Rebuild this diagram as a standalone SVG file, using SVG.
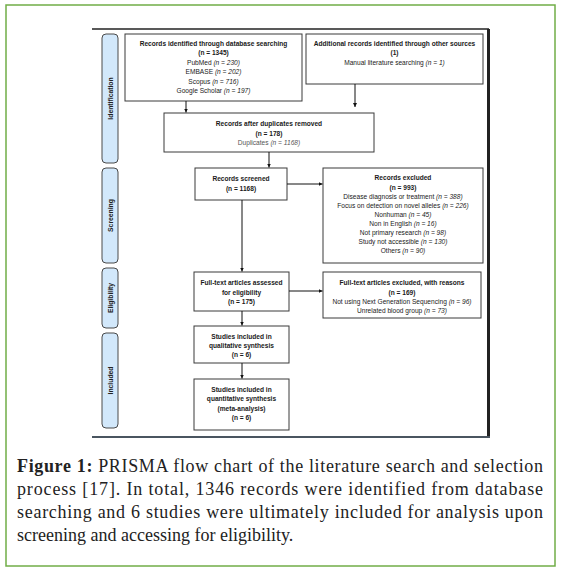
<svg xmlns="http://www.w3.org/2000/svg" width="564" height="571" viewBox="0 0 564 571">
<style>
.box{fill:#fff;stroke:#3a3a3a;stroke-width:1}
.lane{fill:#d2e8fb;stroke:#4a4a4a;stroke-width:1}
.t{font-family:"Liberation Sans",Arial,sans-serif;font-size:6.6px;fill:#1a1a1a;text-anchor:middle}
.b{font-weight:bold}
.i{font-style:italic}
.g{fill:#555}
.lt{font-family:"Liberation Sans",Arial,sans-serif;font-size:6.8px;font-weight:bold;fill:#222;text-anchor:middle}
.cap{font-family:"Liberation Serif","Times New Roman",serif;font-size:18px;fill:#222}
.conn{stroke:#111;stroke-width:1;fill:none;marker-end:url(#ah)}
</style>
<defs>
<marker id="ah" viewBox="0 0 6 6" refX="6" refY="3" markerWidth="4" markerHeight="4" markerUnits="userSpaceOnUse" orient="auto">
<path d="M0,0 L6,3 L0,6 z" fill="#111"/>
</marker>
</defs>
<rect x="6" y="5" width="549" height="561" fill="#fff" stroke="#70ad47" stroke-width="1.5"/>
<g id="frame">
<line x1="92" y1="29" x2="489" y2="29" stroke="#222" stroke-width="1.5"/>
<line x1="488.5" y1="29" x2="488.5" y2="438" stroke="#222" stroke-width="3"/>
<line x1="92" y1="437" x2="490" y2="437" stroke="#4a5560" stroke-width="2"/>
</g>
<g id="lane-identification"><rect class="lane" x="102" y="34" width="16" height="129" rx="4"/><text class="lt" transform="translate(112.5,98.5) rotate(-90)">Identification</text></g>
<g id="lane-screening"><rect class="lane" x="102" y="168" width="16" height="95" rx="4"/><text class="lt" transform="translate(112.5,215.5) rotate(-90)">Screening</text></g>
<g id="lane-eligibility"><rect class="lane" x="102" y="268" width="16" height="60" rx="4"/><text class="lt" transform="translate(112.5,298) rotate(-90)">Eligibility</text></g>
<g id="lane-included"><rect class="lane" x="102" y="333" width="16" height="95" rx="4"/><text class="lt" transform="translate(112.5,380.5) rotate(-90)">Included</text></g>

<g id="n-db">
<rect class="box" x="125" y="34" width="177" height="67"/>
<text class="t b" x="213.5" y="46">Records identified through database searching</text>
<text class="t b" x="213.5" y="55">(n = 1345)</text>
<text class="t" x="213.5" y="64.5">PubMed <tspan class="i">(n = 230)</tspan></text>
<text class="t" x="213.5" y="74">EMBASE <tspan class="i">(n = 202)</tspan></text>
<text class="t" x="213.5" y="83.5">Scopus <tspan class="i">(n = 716)</tspan></text>
<text class="t" x="213.5" y="93">Google Scholar <tspan class="i">(n = 197)</tspan></text>
</g>
<g id="n-other">
<rect class="box" x="306" y="34" width="177" height="50"/>
<text class="t b" x="394.5" y="46">Additional records identified through other sources</text>
<text class="t b" x="394.5" y="55">(1)</text>
<text class="t" x="394.5" y="64.5">Manual literature searching <tspan class="i">(n = 1)</tspan></text>
</g>
<g id="n-dedup">
<rect class="box" x="164" y="113" width="210" height="39"/>
<text class="t b" x="269" y="126">Records after duplicates removed</text>
<text class="t b" x="269" y="135.5">(n = 178)</text>
<text class="t g" x="269" y="145">Duplicates <tspan class="i">(n = 1168)</tspan></text>
</g>
<g id="n-screened">
<rect class="box" x="195" y="168" width="92" height="32"/>
<text class="t b" x="241" y="181">Records screened</text>
<text class="t b" x="241" y="191">(n = 1168)</text>
</g>
<g id="n-excluded">
<rect class="box" x="323" y="168" width="160" height="95"/>
<text class="t b" x="403" y="180">Records excluded</text>
<text class="t b" x="403" y="189.5">(n = 993)</text>
<text class="t" x="403" y="199">Disease diagnosis or treatment <tspan class="i">(n = 388)</tspan></text>
<text class="t" x="403" y="208">Focus on detection on novel alleles <tspan class="i">(n = 226)</tspan></text>
<text class="t" x="403" y="217">Nonhuman <tspan class="i">(n = 45)</tspan></text>
<text class="t" x="403" y="226">Non in English <tspan class="i">(n = 16)</tspan></text>
<text class="t" x="403" y="235">Not primary research <tspan class="i">(n = 98)</tspan></text>
<text class="t" x="403" y="244">Study not accessible <tspan class="i">(n = 130)</tspan></text>
<text class="t" x="403" y="253">Others <tspan class="i">(n = 90)</tspan></text>
</g>
<g id="n-fulltext">
<rect class="box" x="194" y="272" width="95" height="39"/>
<text class="t b" x="241.5" y="285">Full-text articles assessed</text>
<text class="t b" x="241.5" y="294.5">for eligibility</text>
<text class="t b" x="241.5" y="304">(n = 175)</text>
</g>
<g id="n-ftexcluded">
<rect class="box" x="323" y="272" width="158" height="46"/>
<text class="t b" x="402" y="285">Full-text articles excluded, with reasons</text>
<text class="t b" x="402" y="294.5">(n = 169)</text>
<text class="t" x="402" y="304">Not using Next Generation Sequencing <tspan class="i">(n = 96)</tspan></text>
<text class="t" x="402" y="313">Unrelated blood group <tspan class="i">(n = 73)</tspan></text>
</g>
<g id="n-qual">
<rect class="box" x="194" y="326" width="95" height="37"/>
<text class="t b" x="241.5" y="338.5">Studies included in</text>
<text class="t b" x="241.5" y="347.5">qualitative synthesis</text>
<text class="t b" x="241.5" y="357">(n = 6)</text>
</g>
<g id="n-quant">
<rect class="box" x="194" y="379" width="95" height="51"/>
<text class="t b" x="241.5" y="391.5">Studies included in</text>
<text class="t b" x="241.5" y="401">quantitative synthesis</text>
<text class="t b" x="241.5" y="410.5">(meta-analysis)</text>
<text class="t b" x="241.5" y="420">(n = 6)</text>
</g>
<g id="connectors">
<line class="conn" x1="186" y1="101" x2="186" y2="112.5"/>
<line class="conn" x1="355" y1="84" x2="355" y2="107"/>
<line class="conn" x1="269" y1="152" x2="269" y2="167.5"/>
<line class="conn" x1="287" y1="184" x2="322.5" y2="184"/>
<line class="conn" x1="242" y1="200" x2="242" y2="271.5"/>
<line class="conn" x1="289" y1="291" x2="322.5" y2="291"/>
<line class="conn" x1="242" y1="311" x2="242" y2="325.5"/>
<line class="conn" x1="242" y1="363" x2="242" y2="378.5"/>
</g>
<g id="caption">
<text class="cap" x="17" y="472" textLength="526" lengthAdjust="spacing"><tspan font-weight="bold">Figure 1:</tspan> PRISMA flow chart of the literature search and selection</text>
<text class="cap" x="17" y="495" textLength="526" lengthAdjust="spacing">process [17]. In total, 1346 records were identified from database</text>
<text class="cap" x="17" y="518" textLength="526" lengthAdjust="spacing">searching and 6 studies were ultimately included for analysis upon</text>
<text class="cap" x="17" y="541">screening and accessing for eligibility.</text>
</g>
</svg>
